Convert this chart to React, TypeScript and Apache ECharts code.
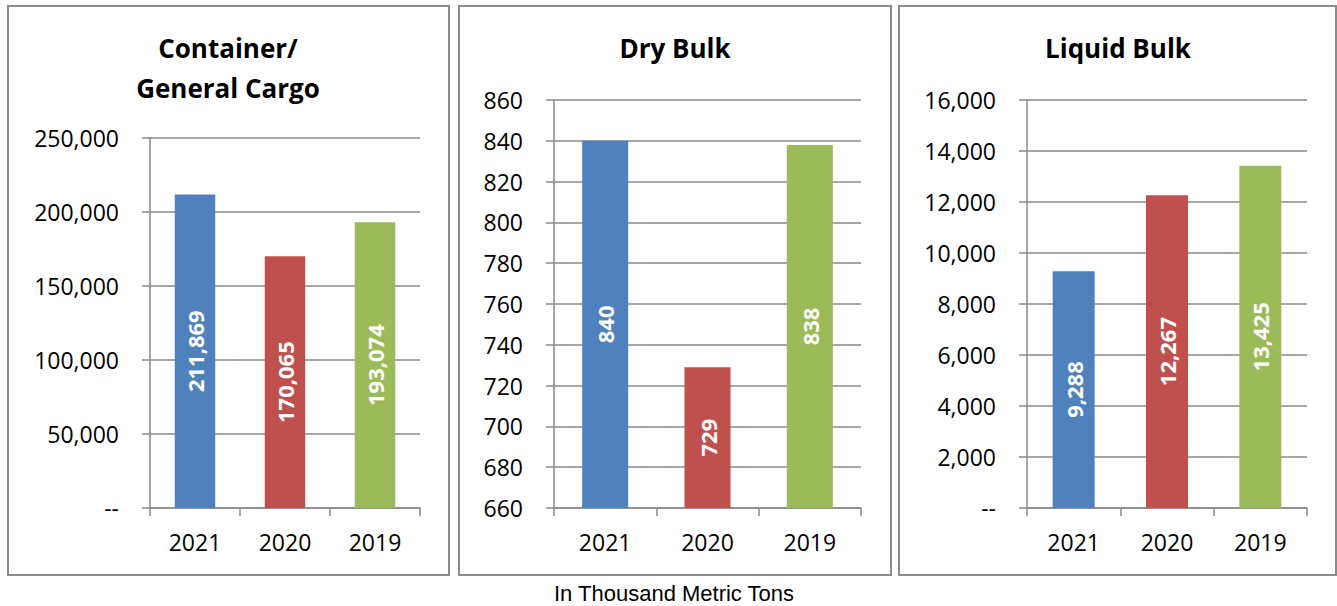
import React, { useEffect, useRef } from "react";
import * as echarts from "echarts";

const years = ["2021", "2020", "2019"];
const containerValues = [211869, 170065, 193074];
const dryBulkValues = [840, 729, 838];
const liquidBulkValues = [9288, 12267, 13425];
const barColors = ["#4F81BD", "#C0504D", "#9BBB59"];
const panelTitles = ["Container/\nGeneral Cargo", "Dry Bulk", "Liquid Bulk"];
const footnote = "In Thousand Metric Tons";

const FONT = "'Open Sans', sans-serif";
const GRAY = "#8a8a8a";

const panels = [
  { values: containerValues, min: 0, max: 250000, interval: 50000, grid: { left: 150, top: 138, width: 270, height: 370 }, box: { x: 8, w: 441 }, titleX: 228, titleY: 68 },
  { values: dryBulkValues, min: 660, max: 860, interval: 20, grid: { left: 554, top: 100, width: 307, height: 408 }, box: { x: 459, w: 432 }, titleX: 675, titleY: 48 },
  { values: liquidBulkValues, min: 0, max: 16000, interval: 2000, grid: { left: 1027, top: 100, width: 280, height: 408 }, box: { x: 899, w: 437 }, titleX: 1118, titleY: 48 },
];

const fmt = (v: number) => (v === 0 ? "--" : v.toLocaleString("en-US"));

export default function App() {
  const ref = useRef<HTMLDivElement>(null);
  useEffect(() => {
    if (!ref.current) return;
    const chart = echarts.init(ref.current, null, { renderer: "svg" });
    const option: any = {
      animation: false,
      backgroundColor: "#ffffff",
      grid: panels.map((p) => ({ ...p.grid, containLabel: false })),
      xAxis: panels.map((p, i) => ({
        type: "category",
        gridIndex: i,
        data: years,
        boundaryGap: true,
        axisLine: { show: true, lineStyle: { color: GRAY, width: 1.5 } },
        axisTick: { show: true, length: 8, alignWithLabel: false, lineStyle: { color: GRAY, width: 1.5 } },
        axisLabel: { fontSize: 23, fontFamily: FONT, color: "#000", margin: 22 },
      })),
      yAxis: panels.map((p, i) => ({
        type: "value",
        gridIndex: i,
        min: p.min,
        max: p.max,
        interval: p.interval,
        axisLine: { show: true, lineStyle: { color: GRAY, width: 1.5 } },
        axisTick: { show: true, length: 8, lineStyle: { color: GRAY, width: 1.5 } },
        splitLine: { show: true, lineStyle: { color: GRAY, width: 1.5 } },
        axisLabel: { fontSize: 23, fontFamily: FONT, color: "#000", margin: 31, formatter: (v: number) => fmt(v) },
      })),
      series: panels.map((p, i) => ({
        type: "bar",
        xAxisIndex: i,
        yAxisIndex: i,
        barWidth: "45%",
        data: p.values.map((v, j) => ({ value: v, itemStyle: { color: barColors[j] } })),
        label: {
          show: true,
          position: "inside",
          rotate: 90,
          color: "#ffffff",
          fontWeight: "bold",
          fontSize: 22,
          fontFamily: FONT,
          formatter: (d: any) => Number(d.value).toLocaleString("en-US"),
        },
      })),
      graphic: [
        ...panels.map((p) => ({
          type: "rect",
          shape: { x: p.box.x, y: 6, width: p.box.w, height: 569 },
          style: { fill: "none", stroke: "#8c8c8c", lineWidth: 2 },
          silent: true,
        })),
        ...panels.map((p, i) => ({
          type: "text",
          x: p.titleX,
          y: p.titleY,
          style: {
            text: panelTitles[i],
            align: "center",
            verticalAlign: "middle",
            fontSize: 26,
            fontWeight: "bold",
            fontFamily: FONT,
            lineHeight: 40,
            fill: "#000",
          },
        })),
        {
          type: "text",
          x: 674,
          y: 593,
          style: {
            text: footnote,
            align: "center",
            verticalAlign: "middle",
            fontSize: 22,
            fontFamily: "'Liberation Sans', Arial, sans-serif",
            fill: "#000",
          },
        },
      ],
    };
    chart.setOption(option);
    return () => chart.dispose();
  }, []);
  return <div ref={ref} style={{ position: "fixed", left: 0, top: 0, width: 1337, height: 606, background: "#fff" }} />;
}
